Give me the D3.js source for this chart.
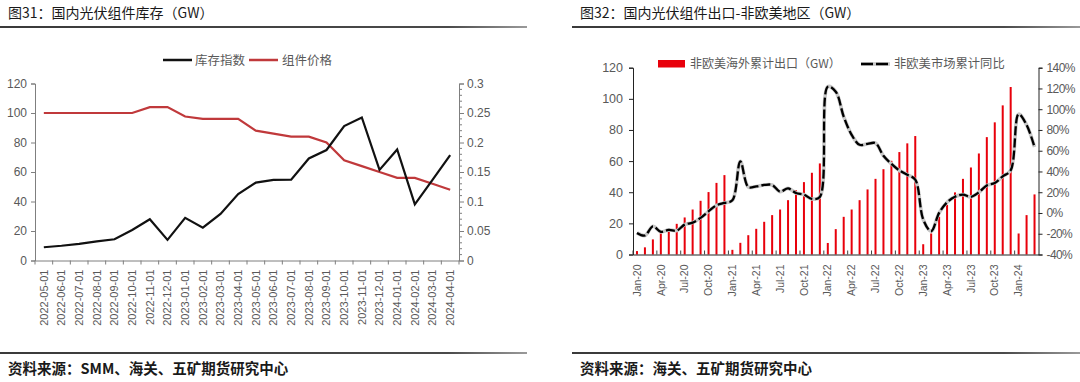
<!DOCTYPE html>
<html lang="zh">
<head>
<meta charset="utf-8">
<title>光伏组件库存与出口</title>
<script src="https://cdn.jsdelivr.net/npm/d3@7/dist/d3.min.js"></script>
<style>
  body { margin: 0; background: #fff; }
  svg { display: block; font-family: "Liberation Sans", "Noto Sans CJK SC", sans-serif; }
  .cjk { font-family: "Noto Sans CJK SC", sans-serif; }
  .tick text { fill: #595959; }
</style>
</head>
<body>
<svg id="chart" width="1080" height="382"></svg>
<script>
// ---- left chart data: 国内光伏组件库存 ----
var invDates = ["2022-05-01","2022-06-01","2022-07-01","2022-08-01","2022-09-01","2022-10-01",
  "2022-11-01","2022-12-01","2023-01-01","2023-02-01","2023-03-01","2023-04-01",
  "2023-05-01","2023-06-01","2023-07-01","2023-08-01","2023-09-01","2023-10-01",
  "2023-11-01","2023-12-01","2024-01-01","2024-02-01","2024-03-01","2024-04-01"];
var invIndex = [9.0, 10.0, 11.3, 13.0, 14.4, 20.7, 28.0, 14.0, 28.9, 22.3, 31.6, 45.0,
  52.8, 54.6, 54.8, 69.2, 74.9, 91.1, 97.0, 61.4, 75.3, 38.1, 54.6, 71.5];
var modulePrice = [0.25, 0.25, 0.25, 0.25, 0.25, 0.25, 0.26, 0.26, 0.244, 0.24, 0.24, 0.24,
  0.22, 0.215, 0.21, 0.21, 0.2, 0.17, 0.16, 0.15, 0.14, 0.14, 0.13, 0.12];
var invTicks = [0, 20, 40, 60, 80, 100, 120];
var priceTicks = [0, 0.05, 0.1, 0.15, 0.2, 0.25, 0.3];

// ---- right chart data: 非欧美地区出口 ----
var months = ["Jan-20","Feb-20","Mar-20","Apr-20","May-20","Jun-20","Jul-20","Aug-20","Sep-20","Oct-20","Nov-20","Dec-20",
  "Jan-21","Feb-21","Mar-21","Apr-21","May-21","Jun-21","Jul-21","Aug-21","Sep-21","Oct-21","Nov-21","Dec-21",
  "Jan-22","Feb-22","Mar-22","Apr-22","May-22","Jun-22","Jul-22","Aug-22","Sep-22","Oct-22","Nov-22","Dec-22",
  "Jan-23","Feb-23","Mar-23","Apr-23","May-23","Jun-23","Jul-23","Aug-23","Sep-23","Oct-23","Nov-23","Dec-23",
  "Jan-24","Feb-24","Mar-24"];
var exportGW = [2.2, 4.6, 9.7, 13.7, 14.8, 19.7, 23.8, 28.9, 34.5, 40.1, 46.0, 51.0,
  3.0, 7.5, 12.4, 16.5, 21.0, 25.3, 28.9, 34.9, 41.3, 46.5, 52.5, 58.5,
  7.4, 16.3, 24.2, 28.9, 34.9, 41.8, 48.6, 54.8, 60.2, 65.8, 71.4, 76.1,
  6.6, 13.5, 24.2, 31.9, 39.9, 48.6, 55.9, 64.9, 75.4, 84.9, 95.8, 107.6,
  13.5, 25.3, 38.6];
var yoyPct = [-19.2, -21.7, -12.8, -18.2, -16.3, -17.0, -11.2, -9.3, -4.7, 1.6, 7.4, 9.7,
  12.2, 49.7, 25.1, 25.6, 27.0, 27.0, 20.5, 23.7, 19.3, 17.7, 13.5, 15.5,
  121.7, 116.9, 92.9, 75.3, 65.7, 66.7, 67.3, 55.1, 47.3, 41.0, 36.9, 32.1,
  -6.3, -17.6, 0.1, 10.3, 15.7, 17.7, 15.5, 19.9, 26.6, 28.9, 35.3, 41.0,
  95.2, 84.9, 63.5];
var labelMonths = ["Jan-20","Apr-20","Jul-20","Oct-20","Jan-21","Apr-21","Jul-21","Oct-21",
  "Jan-22","Apr-22","Jul-22","Oct-22","Jan-23","Apr-23","Jul-23","Oct-23","Jan-24"];
var exportTicks = [0, 20, 40, 60, 80, 100, 120];
var yoyTicks = [-40, -20, 0, 20, 40, 60, 80, 100, 120, 140];

var svg = d3.select("#chart");

// header / footer rules and texts
var defs = svg.append("defs");
var grad = defs.append("linearGradient").attr("id", "rule");
grad.append("stop").attr("offset", "0%").attr("stop-color", "#3a3a3a");
grad.append("stop").attr("offset", "85%").attr("stop-color", "#4a4a4a");
grad.append("stop").attr("offset", "100%").attr("stop-color", "#9a9a9a");

function panelFrame(x0, x1, title, source) {
  svg.append("text").attr("class", "cjk").attr("x", x0 + 8).attr("y", 18)
    .attr("font-size", 14).attr("fill", "#1a1a1a").text(title);
  svg.append("rect").attr("x", x0).attr("y", 26).attr("width", x1 - x0).attr("height", 2).attr("fill", "url(#rule)");
  svg.append("rect").attr("x", x0).attr("y", 352).attr("width", x1 - x0).attr("height", 2).attr("fill", "url(#rule)");
  svg.append("text").attr("class", "cjk").attr("x", x0 + 8).attr("y", 374)
    .attr("font-size", 14.5).attr("font-weight", 700).attr("fill", "#1a1a1a").text(source);
}
panelFrame(0, 527, "图31：国内光伏组件库存（GW）", "资料来源：SMM、海关、五矿期货研究中心");
panelFrame(572, 1080, "图32：国内光伏组件出口-非欧美地区（GW）", "资料来源：海关、五矿期货研究中心");

// ================= left chart =================
var L = { left: 35, right: 459, top: 83.5, bottom: 260.5 };
var xL = d3.scaleBand().domain(invDates).range([L.left, L.right]);
var yL = d3.scaleLinear().domain([0, 120]).range([L.bottom, L.top]);
var yR = d3.scaleLinear().domain([0, 0.3]).range([L.bottom, L.top]);

var gl = svg.append("g");
var axL = gl.append("g").attr("transform", "translate(" + L.left + ",0)")
  .call(d3.axisLeft(yL).tickValues(invTicks).tickSize(4).tickPadding(4));
axL.selectAll("text").attr("font-size", 12);
var axR = gl.append("g").attr("transform", "translate(" + L.right + ",0)")
  .call(d3.axisRight(yR).tickValues(priceTicks).tickSize(5).tickPadding(3).tickFormat(d3.format("")));
axR.selectAll("text").attr("font-size", 12);
axR.selectAll(".minor").data(d3.range(0, 31).filter(function(d) { return d % 5 != 0; }))
  .enter().append("line").attr("class", "minor")
  .attr("x1", 0).attr("x2", 3).attr("y1", function(d) { return yR(d / 100); }).attr("y2", function(d) { return yR(d / 100); })
  .attr("stroke", "#7f7f7f");
var axB = gl.append("g").attr("transform", "translate(0," + L.bottom + ")")
  .call(d3.axisBottom(xL).tickSize(0).tickPadding(0));
axB.selectAll(".tick line").remove();
axB.selectAll("text").attr("font-size", 11).attr("text-anchor", "end")
  .attr("transform", "translate(0,9) rotate(-90)").attr("dy", "0.35em").attr("dx", 0).attr("y", 0);
axB.selectAll(".bt").data(invDates.concat(["end"])).enter().append("line").attr("class", "bt")
  .attr("x1", function(d, i) { return L.left + i * xL.step(); })
  .attr("x2", function(d, i) { return L.left + i * xL.step(); })
  .attr("y1", 0).attr("y2", 4).attr("stroke", "#7f7f7f");
gl.selectAll(".domain").attr("stroke", "#7f7f7f");
gl.selectAll(".tick line").attr("stroke", "#7f7f7f");

var cx = function(d, i) { return xL(invDates[i]) + xL.bandwidth() / 2; };
gl.append("path").datum(modulePrice)
  .attr("d", d3.line().x(cx).y(function(d) { return yR(d); }))
  .attr("fill", "none").attr("stroke", "#c0393b").attr("stroke-width", 2.2);
gl.append("path").datum(invIndex)
  .attr("d", d3.line().x(cx).y(function(d) { return yL(d); }))
  .attr("fill", "none").attr("stroke", "#111").attr("stroke-width", 2.2);

// legend
gl.append("line").attr("x1", 163).attr("x2", 192).attr("y1", 60).attr("y2", 60).attr("stroke", "#111").attr("stroke-width", 2.5);
gl.append("text").attr("class", "cjk").attr("x", 195).attr("y", 64.5).attr("font-size", 12.5).attr("fill", "#595959").text("库存指数");
gl.append("line").attr("x1", 249).attr("x2", 278).attr("y1", 60).attr("y2", 60).attr("stroke", "#c0393b").attr("stroke-width", 2.5);
gl.append("text").attr("class", "cjk").attr("x", 282).attr("y", 64.5).attr("font-size", 12.5).attr("fill", "#595959").text("组件价格");

// ================= right chart =================
var R = { left: 633, right: 1038.5, top: 67.7, bottom: 254.5 };
var xR = d3.scaleBand().domain(months).range([R.left, R.right]);
var yE = d3.scaleLinear().domain([0, 120]).range([R.bottom, R.top]);
var yY = d3.scaleLinear().domain([-40, 140]).range([R.bottom, R.top]);

var gr = svg.append("g");
gr.selectAll(".bar").data(exportGW).enter().append("rect").attr("class", "bar")
  .attr("x", function(d, i) { return xR(months[i]) + xR.bandwidth() / 2 - 1; })
  .attr("width", 2)
  .attr("y", function(d) { return yE(d); })
  .attr("height", function(d) { return R.bottom - yE(d); })
  .attr("fill", "#e8000b");

var raL = gr.append("g").attr("transform", "translate(" + R.left + ",0)")
  .call(d3.axisLeft(yE).tickValues(exportTicks).tickSize(4).tickPadding(6));
raL.selectAll("text").attr("font-size", 12.5);
var raR = gr.append("g").attr("transform", "translate(" + R.right + ",0)")
  .call(d3.axisRight(yY).tickValues(yoyTicks).tickSize(4).tickPadding(4).tickFormat(function(d) { return d + "%"; }));
raR.selectAll("text").attr("font-size", 12).attr("letter-spacing", -0.6);
var raB = gr.append("g").attr("transform", "translate(0," + R.bottom + ")")
  .call(d3.axisBottom(xR).tickValues(labelMonths).tickSize(0).tickPadding(0));
raB.selectAll(".tick line").remove();
raB.selectAll("text").attr("font-size", 10.5).attr("text-anchor", "end")
  .attr("transform", "translate(0,10) rotate(-90)").attr("dy", "0.35em").attr("y", 0);
raB.selectAll(".bt").data(labelMonths).enter().append("line").attr("class", "bt")
  .attr("x1", function(d) { return xR(d); }).attr("x2", function(d) { return xR(d); })
  .attr("y1", 0).attr("y2", -4).attr("stroke", "#404040");
gr.selectAll(".domain").attr("stroke", "#222");
gr.selectAll(".tick line").attr("stroke", "#222");

var rx = function(d, i) { return xR(months[i]) + xR.bandwidth() / 2; };
var yoyLine = d3.line().x(rx).y(function(d) { return yY(d); }).curve(d3.curveCatmullRom.alpha(0.5));
gr.append("path").datum(yoyPct).attr("d", yoyLine)
  .attr("fill", "none").attr("stroke", "#c8c8c8").attr("stroke-width", 3.6);
gr.append("path").datum(yoyPct).attr("d", yoyLine)
  .attr("fill", "none").attr("stroke", "#000").attr("stroke-width", 2.3).attr("stroke-dasharray", "9,3");

// legend
gr.append("rect").attr("x", 658).attr("y", 60).attr("width", 27).attr("height", 7.5).attr("fill", "#e8000b");
gr.append("text").attr("class", "cjk").attr("x", 690).attr("y", 68).attr("font-size", 12).attr("fill", "#595959").text("非欧美海外累计出口（GW）");
gr.append("line").attr("x1", 861).attr("x2", 890).attr("y1", 64).attr("y2", 64).attr("stroke", "#c8c8c8").attr("stroke-width", 3.6);
gr.append("line").attr("x1", 861).attr("x2", 890).attr("y1", 64).attr("y2", 64).attr("stroke", "#000").attr("stroke-width", 2.3).attr("stroke-dasharray", "12,3");
gr.append("text").attr("class", "cjk").attr("x", 894).attr("y", 68).attr("font-size", 12.3).attr("fill", "#595959").text("非欧美市场累计同比");
</script>
</body>
</html>
